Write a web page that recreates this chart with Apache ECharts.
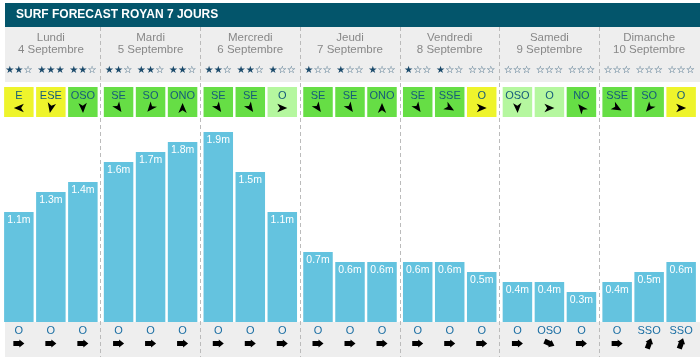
<!DOCTYPE html>
<html><head><meta charset="utf-8">
<script src="https://cdn.jsdelivr.net/npm/echarts@6/dist/echarts.min.js"></script>
<style>html,body{margin:0;padding:0;background:#fff}#c{width:700px;height:361px}</style>
</head><body><div id="c"></div>
<script>
// ---- data ----
const days = ['Lundi','Mardi','Mercredi','Jeudi','Vendredi','Samedi','Dimanche'];
const dates = ['4 Septembre','5 Septembre','6 Septembre','7 Septembre','8 Septembre','9 Septembre','10 Septembre'];
const slotNames = ['Matin','Midi','Soir'];
const waveHeight = [1.1,1.3,1.4, 1.6,1.7,1.8, 1.9,1.5,1.1, 0.7,0.6,0.6, 0.6,0.6,0.5, 0.4,0.4,0.3, 0.4,0.5,0.6];
const starRating = [2,3,2, 2,2,2, 2,2,1, 1,1,1, 1,1,0, 0,0,0, 0,0,0];
const windDir = ['E','ESE','OSO', 'SE','SO','ONO', 'SE','SE','O', 'SE','SE','ONO', 'SE','SSE','O', 'OSO','O','NO', 'SSE','SO','O'];
const windAngle = [270,192,178, 145,220,0, 145,145,90, 145,145,0, 145,120,90, 178,90,320, 120,220,90];
const windClass = ['y','y','g', 'g','g','g', 'g','g','l', 'g','g','g', 'g','g','y', 'l','l','g', 'g','g','y'];
const swellDir = ['O','O','O', 'O','O','O', 'O','O','O', 'O','O','O', 'O','O','O', 'O','OSO','O', 'O','SSO','SSO'];
const swellAngle = [90,90,90, 90,90,90, 90,90,90, 90,90,90, 90,90,90, 90,115,90, 90,20,20];
const title = 'SURF FORECAST ROYAN 7 JOURS';

// ---- styles ----
const FONT = 'Liberation Sans, Arial, sans-serif';
const BW = 29.5, GAP = 2.5, SLOT = BW + GAP;
const windColors = {y:'#eef42c', g:'#66de45', l:'#b5f79f'};
const WIND_ARROW = [[0,-5],[4.2,5],[0,2.3],[-4.2,5]];
const SWELL_ARROW = [[0,-5.5],[4,-0.5],[2.6,-0.5],[2.6,5.5],[-2.6,5.5],[-2.6,-0.5],[-4,-0.5]];

function slotX(api, i){ const c = api.coord([Math.floor(i/3), 0]); return c[0] + (i%3 - 1)*SLOT; }
function rot(cx, cy, pts, deg){
  const t = deg*Math.PI/180, c = Math.cos(t), s = Math.sin(t);
  return pts.map(([px,py]) => [cx + px*c - py*s, cy + px*s + py*c]);
}
const slotData = waveHeight.map((v,i) => [Math.floor(i/3), 0]);

const barSeries = slotNames.map((name, s) => ({
  type:'bar', name, xAxisIndex:0, yAxisIndex:0,
  data: days.map((d,k) => waveHeight[k*3+s]),
  barWidth: BW, barGap: (GAP/BW*100).toFixed(1)+'%',
  itemStyle:{color:'#64c3df'},
  label:{show:true, position:'insideTop', distance:3, color:'#fff', fontSize:10.5, fontFamily:FONT,
    formatter: p => p.value.toFixed(1)+'m'},
  silent:true
}));

const option = {
  animation:false,
  title:{text:title, left:16, top:8, padding:0,
    textStyle:{color:'#fff', fontSize:12, fontWeight:'bold', fontFamily:FONT, lineHeight:14}},
  graphic:[
    {type:'rect', z:-10, shape:{x:5,y:3,width:695,height:24}, style:{fill:'#03556b'}},
    {type:'rect', z:-10, shape:{x:5,y:27,width:695,height:55}, style:{fill:'#eeeeee'}},
    {type:'rect', z:-10, shape:{x:5,y:322,width:695,height:35}, style:{fill:'#eeeeee'}}
  ],
  grid:{left:1, right:1, top:27, bottom:4, containLabel:false, outerBoundsMode:'none'},
  xAxis:[
    {type:'category', data:days, gridIndex:0, position:'bottom',
     axisLine:{show:false}, axisTick:{show:false}, axisLabel:{show:false},
     splitLine:{show:true, showMinLine:false, showMaxLine:false,
       lineStyle:{color:'#bbbbbb', type:[4,3], width:1}}},
    {type:'category', data:days, gridIndex:0, position:'top', offset:-29,
     axisLine:{show:false}, axisTick:{show:false}, splitLine:{show:false},
     axisLabel:{show:true, interval:0, margin:0, color:'#888888', fontSize:11.5, lineHeight:12, fontFamily:FONT,
       formatter:(v, i) => v + '\n' + dates[i]}}
  ],
  yAxis:{type:'value', min:-0.35, max:2.95, show:false, splitLine:{show:false}},
  series:[
    ...barSeries,
    {type:'custom', name:'Etoiles', data:slotData, encode:{x:0,y:1}, silent:true,
     renderItem:(params, api) => {
       const i = params.dataIndex, cx = slotX(api, i), n = starRating[i];
       return {type:'text', style:{text:'★'.repeat(n)+'☆'.repeat(3-n), x:cx, y:70,
         align:'center', verticalAlign:'middle', fill:'#1b4a6b', fontSize:10.2, fontFamily:'DejaVu Sans'}};
     }},
    {type:'custom', name:'Vent', data:slotData, encode:{x:0,y:1}, silent:true,
     renderItem:(params, api) => {
       const i = params.dataIndex, cx = slotX(api, i);
       return {type:'group', children:[
         {type:'rect', shape:{x:cx-BW/2, y:87, width:BW, height:30}, style:{fill:windColors[windClass[i]]}},
         {type:'text', style:{text:windDir[i], x:cx, y:95.5, align:'center', verticalAlign:'middle',
           fill:'#155b7a', fontSize:11, fontFamily:FONT}},
         {type:'polygon', shape:{points:rot(cx, 108, WIND_ARROW, windAngle[i])}, style:{fill:'#000'}}
       ]};
     }},
    {type:'custom', name:'Houle', data:slotData, encode:{x:0,y:1}, silent:true,
     renderItem:(params, api) => {
       const i = params.dataIndex, cx = slotX(api, i);
       return {type:'group', children:[
         {type:'text', style:{text:swellDir[i], x:cx, y:330.5, align:'center', verticalAlign:'middle',
           fill:'#1a6ea3', fontSize:11, fontFamily:FONT}},
         {type:'polygon', shape:{points:rot(cx, 343.5, SWELL_ARROW, swellAngle[i])}, style:{fill:'#000'}}
       ]};
     }}
  ]
};
const chart = echarts.init(document.getElementById('c'), null, {renderer:'canvas'});
chart.setOption(option);
</script></body></html>
